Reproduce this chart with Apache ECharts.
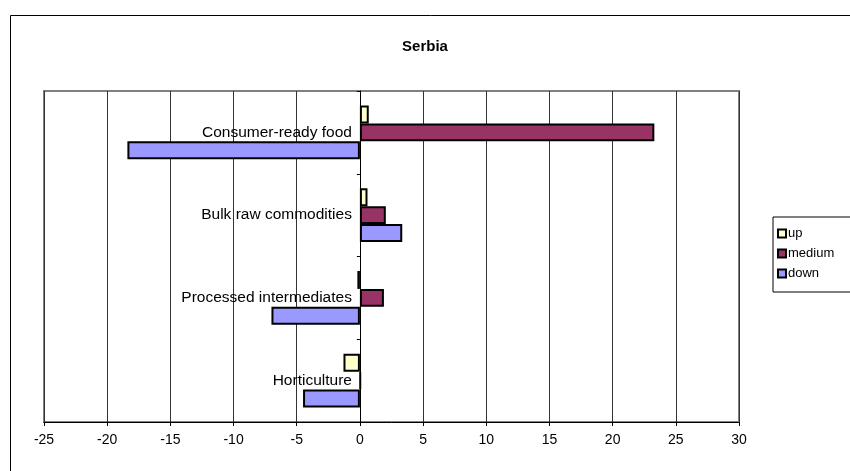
<!DOCTYPE html>
<html>
<head>
<meta charset="utf-8">
<script src="https://cdn.jsdelivr.net/npm/echarts@6/dist/echarts.min.js"></script>
<style>
  html, body { margin: 0; padding: 0; background: #fff; }
  #chart { width: 850px; height: 471px; }
</style>
</head>
<body>
<div id="chart"></div>
<script>
// Product groups, listed from the bottom of the chart to the top
const categories = ['Horticulture', 'Processed intermediates', 'Bulk raw commodities', 'Consumer-ready food'];
const upValues = [-1.3, -0.2, 0.6, 0.7];
const mediumValues = [0.05, 1.9, 2.05, 23.3];
const downValues = [-4.5, -7.0, 3.35, -18.4];
const xTicks = [-25, -20, -15, -10, -5, 0, 5, 10, 15, 20, 25, 30];

const chart = echarts.init(document.getElementById('chart'));
const font = 'Arial, "Liberation Sans", sans-serif';
const gridLeft = 44;

function barSeries(name, data, color) {
  return {
    name: name,
    type: 'bar',
    data: data,
    barGap: '0%',
    barCategoryGap: '35%',
    itemStyle: { color: color, borderColor: '#000', borderWidth: 2 },
    emphasis: { disabled: true }
  };
}

chart.setOption({
  animation: false,
  textStyle: { fontFamily: font },
  graphic: [{
    type: 'rect',
    shape: { x: 10.5, y: 15.5, width: 900, height: 500 },
    style: { fill: 'none', stroke: '#000', lineWidth: 1 },
    silent: true,
    z: -1
  }],
  title: {
    text: 'Serbia',
    left: 'center',
    top: 34,
    textStyle: { fontFamily: font, fontSize: 15, fontWeight: 'bold', color: '#000' }
  },
  legend: {
    orient: 'vertical',
    left: 773,
    top: 217,
    data: ['up', 'medium', 'down'],
    icon: 'rect',
    itemWidth: 8,
    itemHeight: 8,
    itemGap: 7,
    padding: [10, 24, 12, 4],
    borderColor: '#000',
    borderWidth: 1,
    textStyle: { fontFamily: font, fontSize: 13, color: '#000', padding: [0, 0, 0, -3] }
  },
  grid: {
    left: gridLeft, right: 111, top: 91, bottom: 49,
    containLabel: false,
    outerBoundsMode: 'none',
    show: true,
    borderColor: '#808080',
    borderWidth: 2,
    backgroundColor: '#fff'
  },
  xAxis: {
    type: 'value',
    min: xTicks[0],
    max: xTicks[xTicks.length - 1],
    interval: 5,
    axisLine: { show: true, onZero: false, lineStyle: { color: '#000', width: 1 } },
    axisTick: { show: true, length: 4, lineStyle: { color: '#000' } },
    axisLabel: { color: '#000', fontSize: 14, fontFamily: font, margin: 11 },
    splitLine: { show: true, lineStyle: { color: '#333', width: 1 } }
  },
  yAxis: {
    type: 'category',
    data: categories,
    position: 'left',
    axisLine: { show: true, onZero: false, lineStyle: { color: '#000', width: 1 } },
    axisTick: { show: true, length: 3, lineStyle: { color: '#000' } },
    axisLabel: { color: '#000', fontSize: 15.5, fontFamily: font, margin: 8 },
    splitLine: { show: false }
  },
  series: [
    barSeries('up', upValues, '#FFFFCC'),
    barSeries('medium', mediumValues, '#993366'),
    barSeries('down', downValues, '#9999FF')
  ]
});

// Move the category axis (line, ticks and labels) onto the zero line of the value axis
const zeroX = chart.convertToPixel({ xAxisIndex: 0 }, 0);
chart.setOption({ yAxis: { offset: -(zeroX - gridLeft) } });
</script>
</body>
</html>
